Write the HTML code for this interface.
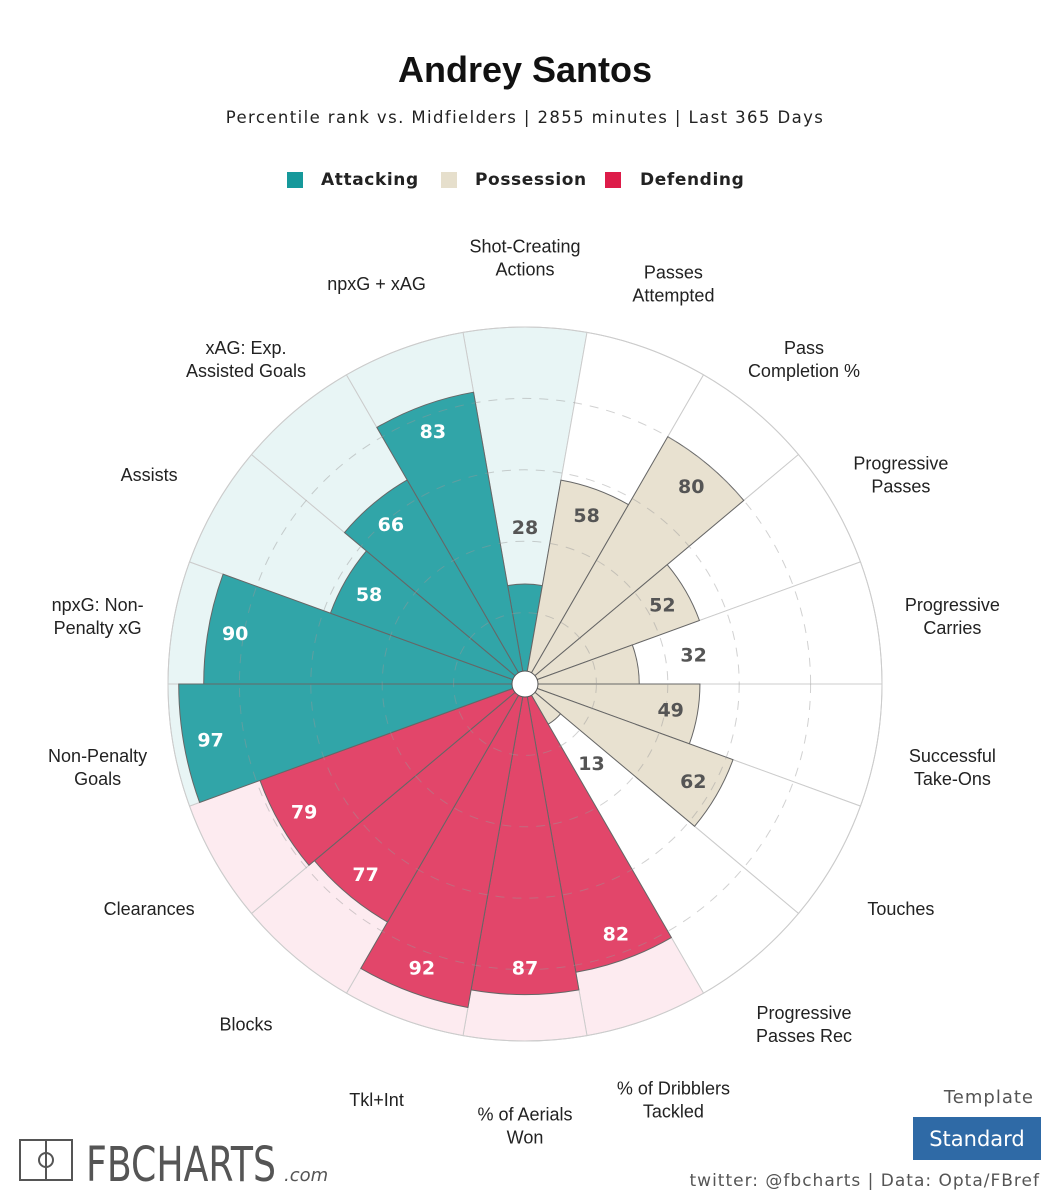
<!DOCTYPE html>
<html><head><meta charset="utf-8"><style>
body{margin:0;background:#fff;}
#wrap{position:relative;width:1050px;height:1200px;overflow:hidden;font-family:"Liberation Sans",sans-serif;}
</style></head><body>
<div id="wrap">
<svg id="chart" width="1050" height="1200" viewBox="0 0 1050 1200">
<text x="525" y="82" text-anchor="middle" font-family="Liberation Sans" font-weight="bold" font-size="36" fill="#111">Andrey Santos</text>
<text x="525" y="123" text-anchor="middle" font-family="DejaVu Sans" font-size="16.5" letter-spacing="1.4" fill="#222">Percentile rank vs. Midfielders | 2855 minutes | Last 365 Days</text>
<g>
<rect x="287" y="172" width="16" height="16" fill="#16999b"/>
<text x="321" y="185" font-family="DejaVu Sans" font-weight="bold" font-size="17" letter-spacing="0.6" fill="#222">Attacking</text>
<rect x="441" y="172" width="16" height="16" fill="#e6dfcc"/>
<text x="475" y="185" font-family="DejaVu Sans" font-weight="bold" font-size="17" letter-spacing="0.6" fill="#222">Possession</text>
<rect x="605" y="172" width="16" height="16" fill="#dd1c49"/>
<text x="640" y="185" font-family="DejaVu Sans" font-weight="bold" font-size="17" letter-spacing="0.6" fill="#222">Defending</text>
</g>
<g id="bg"></g><g id="bars"></g><g id="grid"></g><g id="lines"></g><g id="vals"></g><g id="cats"></g>
<circle cx="525" cy="684" r="13" fill="#fff" stroke="#555" stroke-width="1"/>
<g>
<rect x="20" y="1140" width="52" height="40" fill="none" stroke="#555" stroke-width="2"/>
<line x1="46" y1="1140" x2="46" y2="1180" stroke="#555" stroke-width="2"/>
<circle cx="46" cy="1160" r="7" fill="none" stroke="#555" stroke-width="2"/>
<text x="86" y="1181" font-family="DejaVu Sans" font-size="48" fill="#555" textLength="190" lengthAdjust="spacingAndGlyphs">FBCHARTS</text>
<text x="284" y="1181" font-family="DejaVu Sans" font-style="italic" font-size="18" fill="#555">.com</text>
</g>
<text x="1034" y="1103" text-anchor="end" font-family="DejaVu Sans" font-size="18" letter-spacing="1" fill="#555">Template</text>
<rect x="913" y="1117" width="128" height="43" fill="#2f6aa6"/>
<text x="977" y="1146" text-anchor="middle" font-family="DejaVu Sans" font-size="21" fill="#fff">Standard</text>
<text x="1040" y="1186" text-anchor="end" font-family="DejaVu Sans" font-size="17" letter-spacing="1" fill="#555">twitter: @fbcharts | Data: Opta/FBref</text>
</svg>
</div>
<script>
const categories = ["Shot-Creating\nActions","Passes\nAttempted","Pass\nCompletion %","Progressive\nPasses","Progressive\nCarries","Successful\nTake-Ons","Touches","Progressive\nPasses Rec","% of Dribblers\nTackled","% of Aerials\nWon","Tkl+Int","Blocks","Clearances","Non-Penalty\nGoals","npxG: Non-\nPenalty xG","Assists","xAG: Exp.\nAssisted Goals","npxG + xAG"];
const values = [28,58,80,52,32,49,62,13,82,87,92,77,79,97,90,58,66,83];
const groups = ["att","pos","pos","pos","pos","pos","pos","pos","def","def","def","def","def","att","att","att","att","att"];
const gridTicks = [20,40,60,80];

const CX=525, CY=684, R=357, NS="http://www.w3.org/2000/svg";
const fill={att:"#31a5a8",pos:"#e8e1d0",def:"#e2466a"};
const bgFill={att:"#e8f5f5",pos:"#ffffff",def:"#fdebf0"};
const valColor={att:"#fff",pos:"#555",def:"#fff"};
function rScale(v){return v/100*R;}
function pt(deg,r){const a=(deg-90)*Math.PI/180;return [CX+r*Math.cos(a),CY+r*Math.sin(a)];}
function wedge(a0,a1,r){const p0=pt(a0,r),p1=pt(a1,r);return `M${CX},${CY}L${p0[0]},${p0[1]}A${r},${r} 0 0 1 ${p1[0]},${p1[1]}Z`;}
function mk(tag,attrs,parent){const e=document.createElementNS(NS,tag);for(const k in attrs)e.setAttribute(k,attrs[k]);document.getElementById(parent).appendChild(e);return e;}
const n=categories.length, step=360/n;
categories.forEach((c,i)=>{
  const a0=i*step-step/2, a1=a0+step, g=groups[i];
  const b=mk("path",{d:wedge(a0,a1,R),fill:bgFill[g],stroke:"#ccc","stroke-width":1},"bg");
  
  
  const bar=mk("path",{d:wedge(a0,a1,rScale(values[i])),fill:fill[g],stroke:"#666","stroke-width":1},"bars");
  
  
  const v=values[i], lr=v>=45?rScale(v)-27:rScale(v)+57;
  const lp=pt(i*step,lr);
  const t=mk("text",{x:lp[0],y:lp[1]+7,"text-anchor":"middle","font-family":"DejaVu Sans","font-weight":"bold","font-size":"19",fill:v>=45?valColor[g]:"#555"},"vals");
  t.textContent=v;
  
  
  const cp=pt(i*step,434), lines=c.split("\n");
  const ct=mk("text",{"text-anchor":"middle","font-family":"Liberation Sans","font-size":"18",fill:"#222"},"cats");
  
  
  lines.forEach((l,j)=>{const ts=document.createElementNS(NS,"tspan");ts.setAttribute("x",cp[0]);ts.setAttribute("y",cp[1]+14+(j-(lines.length-1)/2)*23);ts.textContent=l;ct.appendChild(ts);});
});
gridTicks.forEach(t=>{
  const c=mk("circle",{cx:CX,cy:CY,r:rScale(t),fill:"none",stroke:"#999","stroke-width":1,"stroke-dasharray":"9,8",opacity:0.45},"grid");
  
  
});
const oc=mk("circle",{cx:CX,cy:CY,r:R,fill:"none",stroke:"#ccc","stroke-width":1},"lines");


</script>
</body></html>
